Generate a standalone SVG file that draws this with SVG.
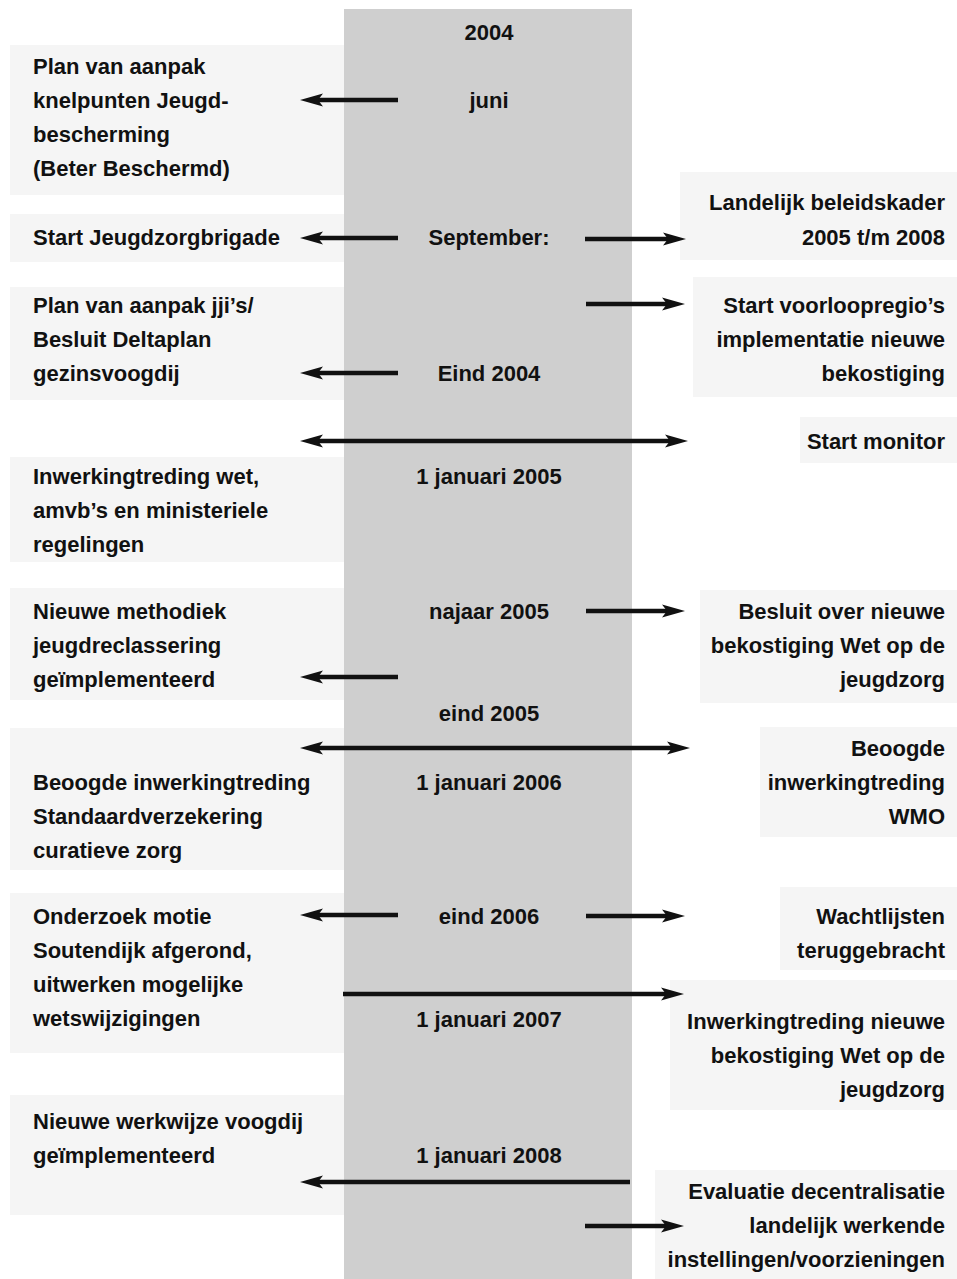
<svg xmlns="http://www.w3.org/2000/svg" width="957" height="1279" viewBox="0 0 957 1279">
  <style>
    .t { font-family: "Liberation Sans", Arial, Helvetica, sans-serif; font-weight: bold; font-size: 22px; fill: #111; }
    .l { text-anchor: start; }
    .r { text-anchor: end; }
    .c { text-anchor: middle; }
    .patch { fill: #f5f5f5; }
    .band { fill: #cfcfcf; }
    .conn { stroke: #111; stroke-width: 4.5; fill: none; }
    .one { marker-end: url(#head); }
    .two { marker-start: url(#head); marker-end: url(#head); }
  </style>
  <defs>
    <marker id="head" markerUnits="userSpaceOnUse" markerWidth="24" markerHeight="14" viewBox="0 -7 24 14" refX="5" refY="0" orient="auto-start-reverse" overflow="visible">
      <path d="M0,-6.5 L23,0 L0,6.5 L5,0 Z" fill="#111"/>
    </marker>
  </defs>

  <rect width="957" height="1279" fill="#fff"/>

  <!-- light tint behind the event texts -->
  <g id="tints">
    <rect class="patch" x="10" y="45" width="334" height="150"/>
    <rect class="patch" x="10" y="214" width="334" height="48"/>
    <rect class="patch" x="10" y="287" width="334" height="113"/>
    <rect class="patch" x="10" y="457" width="334" height="105"/>
    <rect class="patch" x="10" y="588" width="334" height="112"/>
    <rect class="patch" x="10" y="728" width="334" height="142"/>
    <rect class="patch" x="10" y="893" width="334" height="160"/>
    <rect class="patch" x="10" y="1095" width="334" height="120"/>
    <rect class="patch" x="680" y="172" width="277" height="88"/>
    <rect class="patch" x="693" y="277" width="264" height="120"/>
    <rect class="patch" x="800" y="417" width="157" height="46"/>
    <rect class="patch" x="700" y="590" width="257" height="113"/>
    <rect class="patch" x="760" y="727" width="197" height="110"/>
    <rect class="patch" x="780" y="887" width="177" height="83"/>
    <rect class="patch" x="670" y="980" width="287" height="130"/>
    <rect class="patch" x="655" y="1170" width="302" height="109"/>
  </g>

  <!-- timeline band -->
  <rect id="timeline" class="band" x="344" y="9" width="288" height="1270"/>

  <!-- dates on the timeline -->
  <g id="dates">
    <text id="d2004" class="t c" x="489" y="40">2004</text>
    <text id="djuni" class="t c" x="489" y="108">juni</text>
    <text id="dsep" class="t c" x="489" y="245">September:</text>
    <text id="deind2004" class="t c" x="489" y="381">Eind 2004</text>
    <text id="djan2005" class="t c" x="489" y="484">1 januari 2005</text>
    <text id="dnajaar2005" class="t c" x="489" y="619">najaar 2005</text>
    <text id="deind2005" class="t c" x="489" y="721">eind 2005</text>
    <text id="djan2006" class="t c" x="489" y="790">1 januari 2006</text>
    <text id="deind2006" class="t c" x="489" y="924">eind 2006</text>
    <text id="djan2007" class="t c" x="489" y="1027">1 januari 2007</text>
    <text id="djan2008" class="t c" x="489" y="1163">1 januari 2008</text>
  </g>

  <!-- events, left column -->
  <g id="beter-beschermd">
    <text class="t l" x="33" y="74">Plan van aanpak</text>
    <text class="t l" x="33" y="108">knelpunten Jeugd-</text>
    <text class="t l" x="33" y="142">bescherming</text>
    <text class="t l" x="33" y="176">(Beter Beschermd)</text>
  </g>
  <g id="jeugdzorgbrigade">
    <text class="t l" x="33" y="245">Start Jeugdzorgbrigade</text>
  </g>
  <g id="deltaplan">
    <text class="t l" x="33" y="313">Plan van aanpak jji’s/</text>
    <text class="t l" x="33" y="347">Besluit Deltaplan</text>
    <text class="t l" x="33" y="381">gezinsvoogdij</text>
  </g>
  <g id="inwerkingtreding-wet">
    <text class="t l" x="33" y="484">Inwerkingtreding wet,</text>
    <text class="t l" x="33" y="518">amvb’s en ministeriele</text>
    <text class="t l" x="33" y="552">regelingen</text>
  </g>
  <g id="jeugdreclassering">
    <text class="t l" x="33" y="619">Nieuwe methodiek</text>
    <text class="t l" x="33" y="653">jeugdreclassering</text>
    <text class="t l" x="33" y="687">geïmplementeerd</text>
  </g>
  <g id="standaardverzekering">
    <text class="t l" x="33" y="790">Beoogde inwerkingtreding</text>
    <text class="t l" x="33" y="824">Standaardverzekering</text>
    <text class="t l" x="33" y="858">curatieve zorg</text>
  </g>
  <g id="motie-soutendijk">
    <text class="t l" x="33" y="924">Onderzoek motie</text>
    <text class="t l" x="33" y="958">Soutendijk afgerond,</text>
    <text class="t l" x="33" y="992">uitwerken mogelijke</text>
    <text class="t l" x="33" y="1026">wetswijzigingen</text>
  </g>
  <g id="voogdij">
    <text class="t l" x="33" y="1129">Nieuwe werkwijze voogdij</text>
    <text class="t l" x="33" y="1163">geïmplementeerd</text>
  </g>

  <!-- events, right column -->
  <g id="beleidskader">
    <text class="t r" x="945" y="210">Landelijk beleidskader</text>
    <text class="t r" x="945" y="245">2005 t/m 2008</text>
  </g>
  <g id="voorloopregios">
    <text class="t r" x="945" y="313">Start voorloopregio’s</text>
    <text class="t r" x="945" y="347">implementatie nieuwe</text>
    <text class="t r" x="945" y="381">bekostiging</text>
  </g>
  <g id="monitor">
    <text class="t r" x="945" y="449">Start monitor</text>
  </g>
  <g id="besluit-bekostiging">
    <text class="t r" x="945" y="619">Besluit over nieuwe</text>
    <text class="t r" x="945" y="653">bekostiging Wet op de</text>
    <text class="t r" x="945" y="687">jeugdzorg</text>
  </g>
  <g id="wmo">
    <text class="t r" x="945" y="756">Beoogde</text>
    <text class="t r" x="945" y="790">inwerkingtreding</text>
    <text class="t r" x="945" y="824">WMO</text>
  </g>
  <g id="wachtlijsten">
    <text class="t r" x="945" y="924">Wachtlijsten</text>
    <text class="t r" x="945" y="958">teruggebracht</text>
  </g>
  <g id="nieuwe-bekostiging">
    <text class="t r" x="945" y="1029">Inwerkingtreding nieuwe</text>
    <text class="t r" x="945" y="1063">bekostiging Wet op de</text>
    <text class="t r" x="945" y="1097">jeugdzorg</text>
  </g>
  <g id="evaluatie">
    <text class="t r" x="945" y="1199">Evaluatie decentralisatie</text>
    <text class="t r" x="945" y="1233">landelijk werkende</text>
    <text class="t r" x="945" y="1267">instellingen/voorzieningen</text>
  </g>

  <!-- arrows from the timeline to the events -->
  <g id="connectors">
    <line class="conn one" x1="398" y1="100" x2="318" y2="100"/>
    <line class="conn one" x1="398" y1="238" x2="318" y2="238"/>
    <line class="conn one" x1="585" y1="239" x2="668" y2="239"/>
    <line class="conn one" x1="586" y1="304" x2="667" y2="304"/>
    <line class="conn one" x1="398" y1="373" x2="318" y2="373"/>
    <line class="conn two" x1="318" y1="441" x2="670" y2="441"/>
    <line class="conn one" x1="586" y1="611" x2="667" y2="611"/>
    <line class="conn one" x1="398" y1="677" x2="318" y2="677"/>
    <line class="conn two" x1="318" y1="748" x2="672" y2="748"/>
    <line class="conn one" x1="398" y1="915" x2="318" y2="915"/>
    <line class="conn one" x1="586" y1="916" x2="667" y2="916"/>
    <line class="conn one" x1="343" y1="994" x2="666" y2="994"/>
    <line class="conn one" x1="630" y1="1182" x2="318" y2="1182"/>
    <line class="conn one" x1="585" y1="1226" x2="666" y2="1226"/>
  </g>
</svg>
